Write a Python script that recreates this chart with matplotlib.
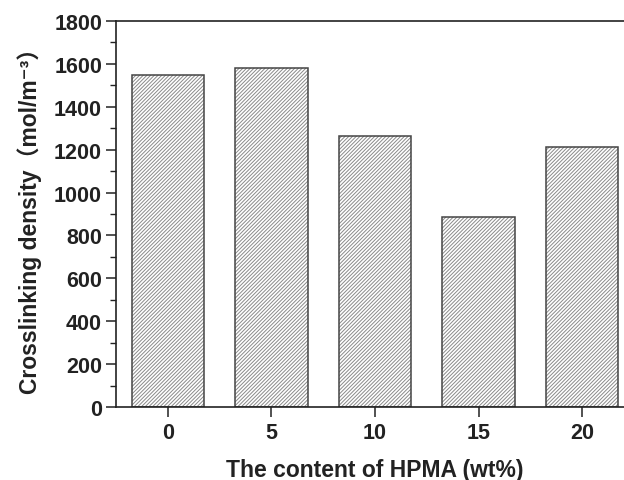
import matplotlib
matplotlib.use("Agg")
from matplotlib import pyplot as plt
import numpy as np

categories = ["0", "5", "10", "15", "20"]
density = [1548, 1580, 1262, 887, 1214]
y_ticks = [0, 200, 400, 600, 800, 1000, 1200, 1400, 1600, 1800]

plt.rcParams["font.family"] = ["Liberation Sans", "Noto Sans CJK SC", "DejaVu Sans"]
plt.rcParams["font.weight"] = "bold"
plt.rcParams["hatch.linewidth"] = 0.7

fig = plt.figure(figsize=(6.24, 4.81), dpi=100)
ax = fig.add_axes([116 / 624, 1 - 408 / 481, 518 / 624, 386 / 481])

x = np.arange(len(categories))
ax.bar(x, density, width=0.7, color="white", edgecolor="#8a8a8a",
       hatch="/////////", linewidth=0)
ax.bar(x, density, width=0.7, fill=False, edgecolor="#444444", linewidth=1.1)

ax.set_xlim(-0.5, len(categories) - 0.5)
ax.set_ylim(0, 1800)
ax.set_xticks(x)
ax.set_xticklabels(categories)
ax.set_yticks(y_ticks)
ax.set_yticks(np.arange(100, 1800, 200), minor=True)

for side in ["left", "bottom", "top", "right"]:
    ax.spines[side].set_linewidth(1.2)
    ax.spines[side].set_color("#222222")

ax.tick_params(axis="both", which="major", direction="out", length=7, width=1.1,
               labelsize=15.5, pad=3, colors="#222222")
ax.tick_params(axis="y", which="minor", direction="out", length=4, width=1.0,
               colors="#222222")
ax.tick_params(axis="x", which="major", pad=4)

ax.set_xlabel("The content of HPMA (wt%)", fontsize=16.5, fontweight="bold",
              labelpad=10.5, color="#222222")
ax.set_ylabel("Crosslinking density（mol/m⁻³）", fontsize=16.5,
              fontweight="bold", labelpad=9, color="#222222")

fig.savefig("out.png", dpi=100)
